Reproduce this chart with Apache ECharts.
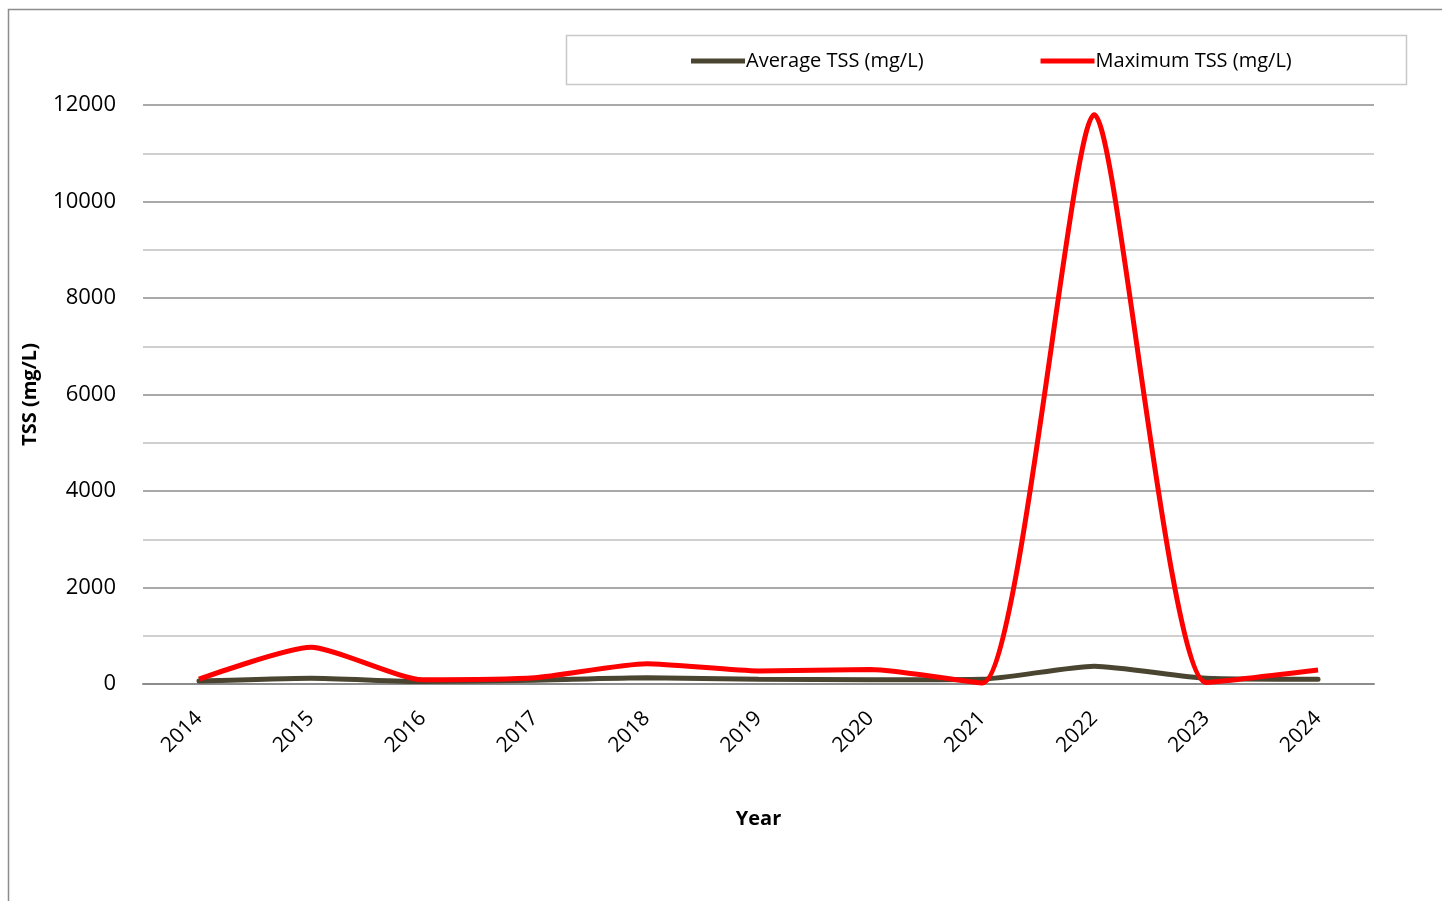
<!DOCTYPE html>
<html>
<head>
<meta charset="utf-8">
<script src="https://cdn.jsdelivr.net/npm/echarts@6/dist/echarts.min.js"></script>
<style>
  html, body { margin: 0; padding: 0; background: #fff; }
  #chart { width: 1442px; height: 901px; }
</style>
</head>
<body>
<div id="chart"></div>
<script>
// Data
const years = ["2014", "2015", "2016", "2017", "2018", "2019", "2020", "2021", "2022", "2023", "2024"];
const avgTss = [60, 120, 50, 80, 130, 100, 90, 100, 370, 120, 100];
const maxTss = [100, 760, 90, 130, 420, 270, 300, 20, 11800, 30, 290];

const font = "'Open Sans', 'Noto Sans', sans-serif";

const chart = echarts.init(document.getElementById("chart"));

const option = {
  animation: false,
  textStyle: { fontFamily: font, color: "#000" },
  graphic: [
    // outer chart frame
    {
      type: "rect",
      shape: { x: 8.5, y: 9.5, width: 1500, height: 1000 },
      style: { fill: "none", stroke: "#8c8c8c", lineWidth: 1.5 },
      silent: true
    },
    // legend box
    {
      type: "rect",
      shape: { x: 566.5, y: 35.5, width: 840, height: 49 },
      style: { fill: "#fff", stroke: "#c8c8c8", lineWidth: 1.5 },
      silent: true
    }
  ],
  legend: {
    left: 686,
    top: 46,
    itemWidth: 54,
    itemHeight: 5,
    itemGap: 117,
    icon: "rect",
    textStyle: { fontFamily: font, fontSize: 20, color: "#000", padding: [0, 0, 0, -4] },
    data: ["Average TSS (mg/L)", "Maximum TSS (mg/L)"]
  },
  grid: { left: 143, right: 68, top: 105, bottom: 217 },
  xAxis: {
    type: "category",
    data: years,
    boundaryGap: true,
    axisLine: { lineStyle: { color: "#8c8c8c", width: 2 } },
    axisTick: { show: false },
    axisLabel: { rotate: 45, margin: 31, fontSize: 21, color: "#000", fontFamily: font },
    name: "Year",
    nameLocation: "middle",
    nameGap: 125,
    nameTextStyle: { fontWeight: "bold", fontSize: 20, color: "#000", fontFamily: font }
  },
  yAxis: {
    type: "value",
    min: 0,
    max: 12000,
    interval: 2000,
    axisLine: { show: false },
    axisTick: { show: false },
    axisLabel: {
      margin: 27,
      fontSize: 22,
      color: "#000",
      fontFamily: font,
      formatter: (v) => String(v)
    },
    splitLine: { lineStyle: { color: "#8c8c8c", width: 1.5 } },
    minorTick: { show: false, splitNumber: 2 },
    minorSplitLine: { show: true, lineStyle: { color: "#c0c0c0", width: 1.5 } },
    name: "TSS (mg/L)",
    nameLocation: "middle",
    nameRotate: 90,
    nameGap: 103,
    nameTextStyle: { fontWeight: "bold", fontSize: 20, color: "#000", fontFamily: font }
  },
  series: [
    {
      name: "Average TSS (mg/L)",
      type: "line",
      data: avgTss,
      smooth: 0.2,
      showSymbol: false,
      lineStyle: { color: "#4a4530", width: 5, cap: "round" },
      itemStyle: { color: "#4a4530" },
      z: 2
    },
    {
      name: "Maximum TSS (mg/L)",
      type: "line",
      data: maxTss,
      smooth: 0.2,
      showSymbol: false,
      lineStyle: { color: "#ff0000", width: 5 },
      itemStyle: { color: "#ff0000" },
      z: 3
    }
  ]
};

chart.setOption(option);
</script>
</body>
</html>
